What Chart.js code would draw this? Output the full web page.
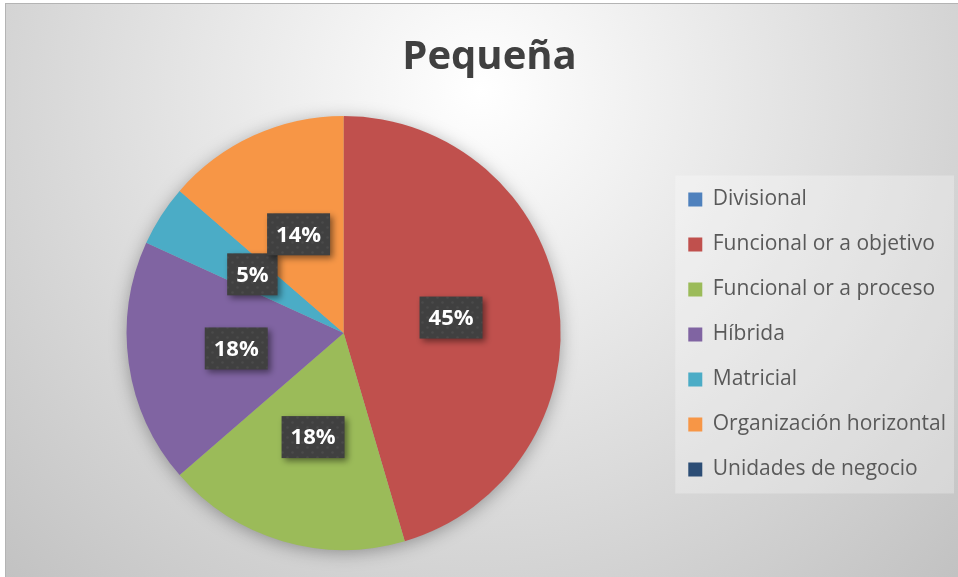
<!DOCTYPE html>
<html>
<head>
<meta charset="utf-8">
<script src="https://cdn.jsdelivr.net/npm/chart.js@4.4.1/dist/chart.umd.min.js"></script>
<style>
  body { margin: 0; background: #ffffff; }
  #canvas { display: block; }
</style>
</head>
<body>
<canvas id="canvas" width="958" height="577"></canvas>
<script>
const title      = "Pequeña";
const categories = ["Divisional", "Funcional or a objetivo", "Funcional or a proceso", "Híbrida", "Matricial", "Organización horizontal", "Unidades de negocio"];
const counts     = [0, 10, 4, 4, 1, 3, 0];
const colors     = ["#4f81bd", "#c0504d", "#9bbb59", "#8064a2", "#4bacc6", "#f79646", "#2c4d75"];

// background of the chart frame + the lighter legend panel
const frame = {
    id: "frame",
    beforeDraw(chart){
        let ctx = chart.ctx;
        ctx.save();
        let g = ctx.createRadialGradient(480, 90, 0, 480, 90, 680);
        g.addColorStop(0, "#ffffff");
        g.addColorStop(1, "#c2c2c2");
        ctx.fillStyle = g;
        ctx.fillRect(5, 3, chart.width - 5, chart.height - 3);
        ctx.strokeStyle = "#b4b4b4";
        ctx.lineWidth = 1;
        ctx.strokeRect(5.5, 3.5, chart.width, chart.height);

        let hb = chart.legend.legendHitBoxes;
        if(hb && hb.length){
            let top = hb[0].top - 13.5;
            let bottom = hb[hb.length-1].top + hb[hb.length-1].height + 13.5;
            ctx.fillStyle = "rgba(255,255,255,0.28)";
            ctx.fillRect(hb[0].left - 13, top, chart.width - 4 - (hb[0].left - 13), bottom - top);
        }
        ctx.restore();
    },
    beforeDatasetsDraw(chart){
        let arc = chart.getDatasetMeta(0).data[1];
        let ctx = chart.ctx;
        ctx.save();
        ctx.shadowColor = "rgba(0,0,0,0.35)";
        ctx.shadowBlur = 18;
        ctx.shadowOffsetY = 3;
        ctx.fillStyle = "#aaaaaa";
        ctx.beginPath();
        ctx.arc(arc.x, arc.y, arc.outerRadius - 1, 0, Math.PI * 2);
        ctx.fill();
        ctx.restore();
    }
};

// dark percentage boxes on the slices
const boxLabels = {
    id: "boxLabels",
    afterDatasetsDraw(chart){
        let ctx = chart.ctx;
        let total = counts.reduce((a, b) => a + b, 0);
        let pat = document.createElement("canvas");
        pat.width = 10; pat.height = 10;
        let pc = pat.getContext("2d");
        pc.fillStyle = "#404040";
        pc.fillRect(0, 0, 10, 10);
        pc.fillStyle = "#4a4a4a";
        pc.beginPath(); pc.arc(2.5, 2.5, 1.3, 0, Math.PI*2); pc.fill();
        pc.beginPath(); pc.arc(7.5, 7.5, 1.3, 0, Math.PI*2); pc.fill();
        let pattern = ctx.createPattern(pat, "repeat");

        chart.getDatasetMeta(0).data.forEach((arc, i) => {
            if(!counts[i]) return;
            let p = arc.tooltipPosition();
            let txt = Math.round(counts[i] / total * 100) + "%";
            ctx.save();
            ctx.font = "bold 22px 'Open Sans'";
            let w = ctx.measureText(txt).width + 18;
            let h = 42;
            ctx.shadowColor = "rgba(0,0,0,0.45)";
            ctx.shadowBlur = 6;
            ctx.shadowOffsetX = 3;
            ctx.shadowOffsetY = 3;
            ctx.fillStyle = pattern;
            ctx.fillRect(p.x - w/2, p.y - h/2, w, h);
            ctx.shadowColor = "transparent";
            ctx.fillStyle = "#ffffff";
            ctx.textAlign = "center";
            ctx.textBaseline = "middle";
            ctx.fillText(txt, p.x, p.y + 1);
            ctx.restore();
        });
    }
};

new Chart(document.getElementById("canvas").getContext("2d"), {
    type: "pie",
    data: {
        labels: categories,
        datasets: [{
            data: counts,
            backgroundColor: colors,
            borderWidth: 0
        }]
    },
    options: {
        responsive: false,
        animation: false,
        layout: { padding: { top: 10, left: 23, right: 2, bottom: 27 } },
        plugins: {
            title: {
                display: true,
                text: title,
                color: "#404040",
                font: { family: "'Open Sans'", size: 40, weight: "bold" },
                padding: { top: 24, bottom: 34 }
            },
            legend: {
                position: "right",
                title: {
                    // empty title only pushes the items down
                    display: true,
                    text: " ",
                    font: { size: 10 },
                    padding: { top: 97, bottom: 0 }
                },
                labels: {
                    color: "#595959",
                    font: { family: "'Open Sans'", size: 21 },
                    boxWidth: 14,
                    boxHeight: 14,
                    padding: 24
                }
            },
            tooltip: { enabled: false }
        }
    },
    plugins: [frame, boxLabels]
});
</script>
</body>
</html>
